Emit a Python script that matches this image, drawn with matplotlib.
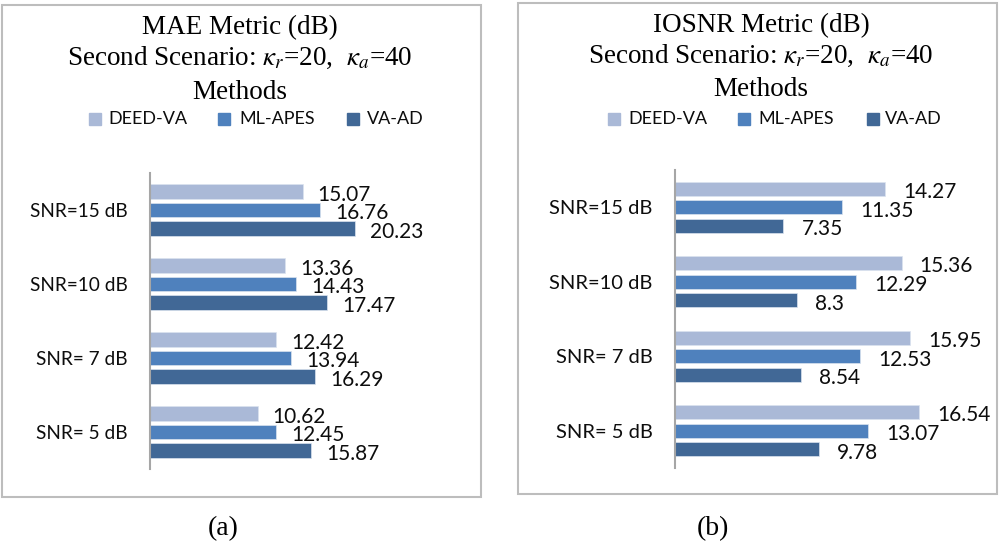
import numpy as np
import matplotlib
matplotlib.use('Agg')
import matplotlib.pyplot as plt
from matplotlib.patches import Rectangle

plt.rcParams['mathtext.fontset'] = 'stix'

snr_labels = ['SNR= 5 dB', 'SNR= 7 dB', 'SNR=10 dB', 'SNR=15 dB']
methods = ['DEED-VA', 'ML-APES', 'VA-AD']
colors = ['#aab9d7', '#4f81bd', '#416896']

mae_deed = [10.62, 12.42, 13.36, 15.07]
mae_mlapes = [12.45, 13.94, 14.43, 16.76]
mae_vaad = [15.87, 16.29, 17.47, 20.23]

iosnr_deed = [16.54, 15.95, 15.36, 14.27]
iosnr_mlapes = [13.07, 12.53, 12.29, 11.35]
iosnr_vaad = [9.78, 8.54, 8.3, 7.35]

W, H = 1000, 541
fig = plt.figure(figsize=(10, 5.41), dpi=100)
txt_col = '#0d0d0d'


def fx(px):
    return px / W


def fy(py):
    return 1 - py / H


def panel(rect, series, xmax, dx, cat_size):
    ax = fig.add_axes(rect)
    y = np.arange(len(snr_labels))
    for k, (vals, col) in enumerate(zip(series, colors)):
        pos = y + (1 - k) * 0.25
        ax.barh(pos, vals, height=0.19, color=col, edgecolor='#dbe3ef', linewidth=0.5)
        for p, v in zip(pos, vals):
            ax.annotate(f'{v:g}', (v, p), xytext=(dx, -2.4), textcoords='offset points',
                        ha='left', va='center', fontsize=15, family='Lato', color=txt_col)
    ax.set_xlim(0, xmax)
    ax.set_ylim(-0.5, 3.5)
    ax.set_yticks(y)
    ax.set_yticklabels(snr_labels, family='Lato', fontsize=cat_size, color=txt_col)
    ax.set_xticks([])
    ax.tick_params(axis='y', length=0, pad=16)
    for s in ['top', 'right', 'bottom']:
        ax.spines[s].set_visible(False)
    ax.spines['left'].set_color('#a6a6a6')
    ax.spines['left'].set_linewidth(1.5)
    ax.patch.set_alpha(0)
    return ax


# left panel (MAE)
panel([fx(150), fy(469), fx(304), (469 - 173) / H],
      [mae_deed, mae_mlapes, mae_vaad], 30, 10.8, 13.7)
# right panel (IOSNR)
panel([fx(675), fy(468), fx(295), (468 - 170) / H],
      [iosnr_deed, iosnr_mlapes, iosnr_vaad], 20, 13, 14.5)

# frames
fig.add_artist(Rectangle((fx(2), fy(497)), fx(479), (497 - 5) / H, transform=fig.transFigure,
                         fill=False, ec='#bdbdbd', lw=1.5))
fig.add_artist(Rectangle((fx(518), fy(494)), fx(479), (494 - 3) / H, transform=fig.transFigure,
                         fill=False, ec='#bdbdbd', lw=1.5))

# titles
serif = 'Liberation Serif'
for cx, name, ys in [(240, 'MAE Metric (dB)', (34, 65, 99)),
                     (761, 'IOSNR Metric (dB)', (32, 63, 96))]:
    fig.text(fx(cx), fy(ys[0]), name, ha='center', va='baseline', family=serif, fontsize=19.5)
    fig.text(fx(cx), fy(ys[1]), r'Second Scenario: $\kappa_r$=20,  $\kappa_a$=40',
             ha='center', va='baseline', family=serif, fontsize=19.5)
    fig.text(fx(cx), fy(ys[2]), 'Methods', ha='center', va='baseline', family=serif, fontsize=19.5)

# legends
for mx, tx in [((89, 218, 347), (108, 239, 367)), ((608, 738, 867), (628, 758, 885))]:
    for m, t, lab, col in zip(mx, tx, methods, colors):
        fig.add_artist(Rectangle((fx(m), fy(125)), fx(12), 12 / H, transform=fig.transFigure,
                                 color=col))
        fig.text(fx(t), fy(119), lab, ha='left', va='center', family='Lato', fontsize=13,
                 color=txt_col)

# captions
fig.text(fx(223), fy(535), '(a)', ha='center', va='baseline', family=serif, fontsize=20)
fig.text(fx(713), fy(535), '(b)', ha='center', va='baseline', family=serif, fontsize=20)

fig.savefig('out.png', dpi=100)
